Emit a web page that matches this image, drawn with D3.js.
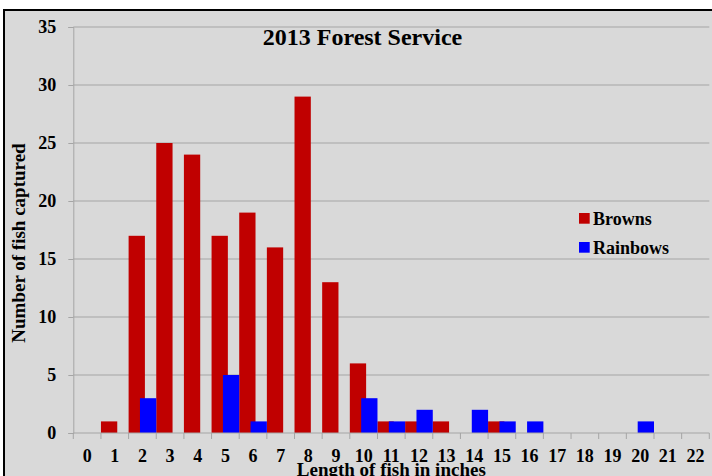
<!DOCTYPE html>
<html>
<head>
<meta charset="utf-8">
<script src="https://cdn.jsdelivr.net/npm/d3@7"></script>
<style>
  html, body { margin: 0; padding: 0; background: #ffffff; }
  svg { display: block; }
  text { font-family: "Liberation Serif", "Times New Roman", serif; font-weight: bold; fill: #000; }
</style>
</head>
<body>
<svg id="chart" width="712" height="476"></svg>
<script>
// Fish length classes (inches) and catch counts per species
const lengths = [0, 1, 2, 3, 4, 5, 6, 7, 8, 9, 10, 11, 12, 13, 14, 15, 16, 17, 18, 19, 20, 21, 22];
const browns   = [0, 1, 17, 25, 24, 17, 19, 16, 29, 13, 6, 1, 1, 1, 0, 1, 0, 0, 0, 0, 0, 0, 0];
const rainbows = [0, 0, 3, 0, 0, 5, 1, 0, 0, 0, 3, 1, 2, 0, 2, 1, 1, 0, 0, 0, 1, 0, 0];
const yTicks = [0, 5, 10, 15, 20, 25, 30, 35];
const seriesNames = ["Browns", "Rainbows"];
const seriesColors = ["#c00000", "#0000ff"];

const svg = d3.select("#chart");
const W = 712, H = 476;

// Chart area frame
svg.append("rect").attr("x", 4).attr("y", 10).attr("width", W + 10).attr("height", H + 10)
  .attr("fill", "#d9d9d9").attr("stroke", "#000").attr("stroke-width", 2);

const plot = { left: 73.3, right: 709.3, top: 27, bottom: 433 };

const x = d3.scaleBand().domain(lengths).range([plot.left, plot.right]).padding(0);
const y = d3.scaleLinear().domain([0, 35]).range([plot.bottom, plot.top]);

const gridColor = "#a5a5a5";

// Horizontal gridlines
svg.append("g").selectAll("line").data(yTicks.filter(d => d > 0)).join("line")
  .attr("x1", plot.left).attr("x2", plot.right)
  .attr("y1", d => y(d)).attr("y2", d => y(d))
  .attr("stroke", gridColor).attr("stroke-width", 1);

// Y axis
const yAxis = svg.append("g").attr("transform", `translate(${plot.left},0)`)
  .call(d3.axisLeft(y).tickValues(yTicks).tickSize(5).tickPadding(12));
yAxis.select(".domain").attr("stroke", gridColor);
yAxis.selectAll(".tick line").attr("stroke", gridColor);
yAxis.selectAll(".tick text").attr("font-size", 18).attr("font-family", "Liberation Serif, serif")
  .attr("font-weight", "bold").attr("fill", "#000");

// Bars: browns at the left of each class, rainbows at the right, overlapping slightly
const bw = 16.3;
const gBars = svg.append("g");
gBars.selectAll("rect.browns").data(lengths).join("rect").attr("class", "browns")
  .attr("x", d => x(d))
  .attr("y", (d, i) => y(browns[i]))
  .attr("width", bw)
  .attr("height", (d, i) => y(0) - y(browns[i]))
  .attr("fill", seriesColors[0]);
gBars.selectAll("rect.rainbows").data(lengths).join("rect").attr("class", "rainbows")
  .attr("x", d => x(d) + x.bandwidth() - bw)
  .attr("y", (d, i) => y(rainbows[i]))
  .attr("width", bw)
  .attr("height", (d, i) => y(0) - y(rainbows[i]))
  .attr("fill", seriesColors[1]);

// X axis: ticks at class boundaries, labels centred in each class
const xAxisG = svg.append("g");
xAxisG.append("line").attr("x1", plot.left).attr("x2", plot.right)
  .attr("y1", y(0)).attr("y2", y(0)).attr("stroke", gridColor);
const bounds = lengths.map(d => x(d)).concat([plot.right]);
xAxisG.selectAll("line.tk").data(bounds).join("line").attr("class", "tk")
  .attr("x1", d => d).attr("x2", d => d)
  .attr("y1", y(0)).attr("y2", y(0) + 6)
  .attr("stroke", gridColor);
xAxisG.selectAll("text").data(lengths).join("text")
  .attr("x", d => x(d) + x.bandwidth() / 2)
  .attr("y", 462)
  .attr("text-anchor", "middle")
  .attr("font-size", 18)
  .text(d => d);

// Titles
svg.append("text").attr("x", 362.5).attr("y", 45).attr("text-anchor", "middle")
  .attr("font-size", 24).text("2013 Forest Service");
svg.append("text").attr("x", (plot.left + plot.right) / 2).attr("y", 476).attr("text-anchor", "middle")
  .attr("font-size", 19).text("Length of fish in inches");
svg.append("text").attr("transform", "translate(25,243) rotate(-90)").attr("text-anchor", "middle")
  .attr("font-size", 19).text("Number of fish captured");

// Legend
const legend = svg.append("g").selectAll("g").data(seriesNames).join("g")
  .attr("transform", (d, i) => `translate(579,${213 + i * 29})`);
legend.append("rect").attr("width", 10.7).attr("height", 10.7).attr("fill", (d, i) => seriesColors[i]);
legend.append("text").attr("x", 14).attr("y", 12).attr("font-size", 18).text(d => d);
</script>
</body>
</html>
